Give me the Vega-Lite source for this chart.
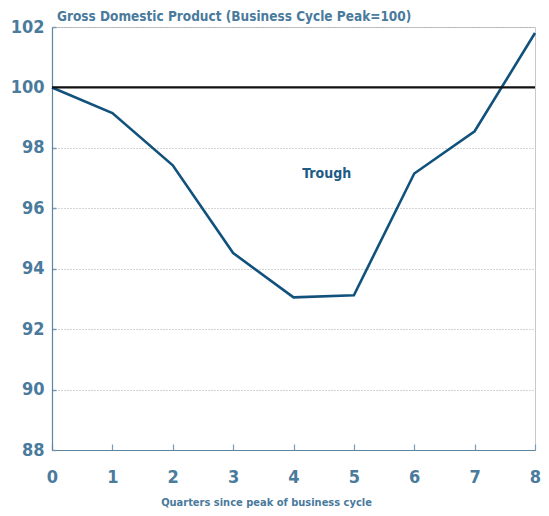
{
  "$schema": "https://vega.github.io/schema/vega-lite/v6.json",
  "autosize": {"type": "none"},
  "width": 483,
  "height": 423,
  "padding": {"left": 52, "top": 27, "right": 14, "bottom": 66},
  "title": {
    "text": "Gross Domestic Product (Business Cycle Peak=100)",
    "anchor": "start",
    "frame": "group",
    "dx": 5,
    "dy": 5,
    "offset": 0,
    "font": "DejaVu Sans Condensed",
    "fontSize": 13.5,
    "fontWeight": "bold",
    "color": "#4a7a9c"
  },
  "config": {
    "view": {"stroke": "#c8c8c8", "strokeWidth": 1},
    "font": "DejaVu Sans Condensed"
  },
  "datasets": {
    "gdp": [
      {"q": 0, "v": 100.0},
      {"q": 1, "v": 99.15},
      {"q": 2, "v": 97.42},
      {"q": 3, "v": 94.52},
      {"q": 4, "v": 93.05},
      {"q": 5, "v": 93.12},
      {"q": 6, "v": 97.15},
      {"q": 7, "v": 98.55},
      {"q": 8, "v": 101.8}
    ],
    "ref": [{"v": 100}],
    "label": [{"q": 4.55, "v": 97.15, "t": "Trough"}]
  },
  "layer": [
    {
      "data": {"name": "gdp"},
      "mark": {"type": "line", "color": "#11527c", "strokeWidth": 2.6},
      "encoding": {
        "x": {
          "field": "q", "type": "quantitative",
          "scale": {"domain": [0, 8], "nice": false},
          "axis": {
            "title": "Quarters since peak of business cycle",
            "titleFont": "DejaVu Sans Condensed",
            "titleFontSize": 11,
            "titleFontWeight": "bold",
            "titleColor": "#4a7a9c",
            "titleX": 214,
            "titleAlign": "center",
            "titlePadding": 10,
            "values": [0, 1, 2, 3, 4, 5, 6, 7, 8],
            "format": "d",
            "labelFlush": false,
            "labelFont": "DejaVu Sans Condensed",
            "labelFontSize": 18,
            "labelFontWeight": "bold",
            "labelColor": "#4a7a9c",
            "labelPadding": 24,
            "domainColor": "#5f84a0",
            "domainWidth": 1.2,
            "tickColor": "#7f9bb2",
            "tickSize": -6,
            "tickWidth": 1.2,
            "grid": false
          }
        },
        "y": {
          "field": "v", "type": "quantitative",
          "scale": {"domain": [88, 102], "nice": false, "zero": false},
          "axis": {
            "title": null,
            "values": [88, 90, 92, 94, 96, 98, 100, 102],
            "labelFont": "DejaVu Sans Condensed",
            "labelFontSize": 18,
            "labelFontWeight": "bold",
            "labelColor": "#4a7a9c",
            "labelPadding": 12,
            "domainColor": "#5f84a0",
            "domainWidth": 1.2,
            "tickColor": "#7f9bb2",
            "tickSize": -4,
            "tickWidth": 1.5,
            "grid": true,
            "gridColor": "#a8a8a8",
            "gridDash": [1, 2],
            "gridWidth": 1
          }
        }
      }
    },
    {
      "data": {"name": "ref"},
      "mark": {"type": "rule", "color": "#111111", "strokeWidth": 2.2},
      "encoding": {"y": {"field": "v", "type": "quantitative"}}
    },
    {
      "data": {"name": "label"},
      "mark": {"type": "text", "font": "DejaVu Sans Condensed", "fontSize": 14, "fontWeight": "bold", "color": "#1d5c85", "align": "center", "baseline": "middle"},
      "encoding": {
        "x": {"field": "q", "type": "quantitative"},
        "y": {"field": "v", "type": "quantitative"},
        "text": {"field": "t"}
      }
    }
  ]
}
